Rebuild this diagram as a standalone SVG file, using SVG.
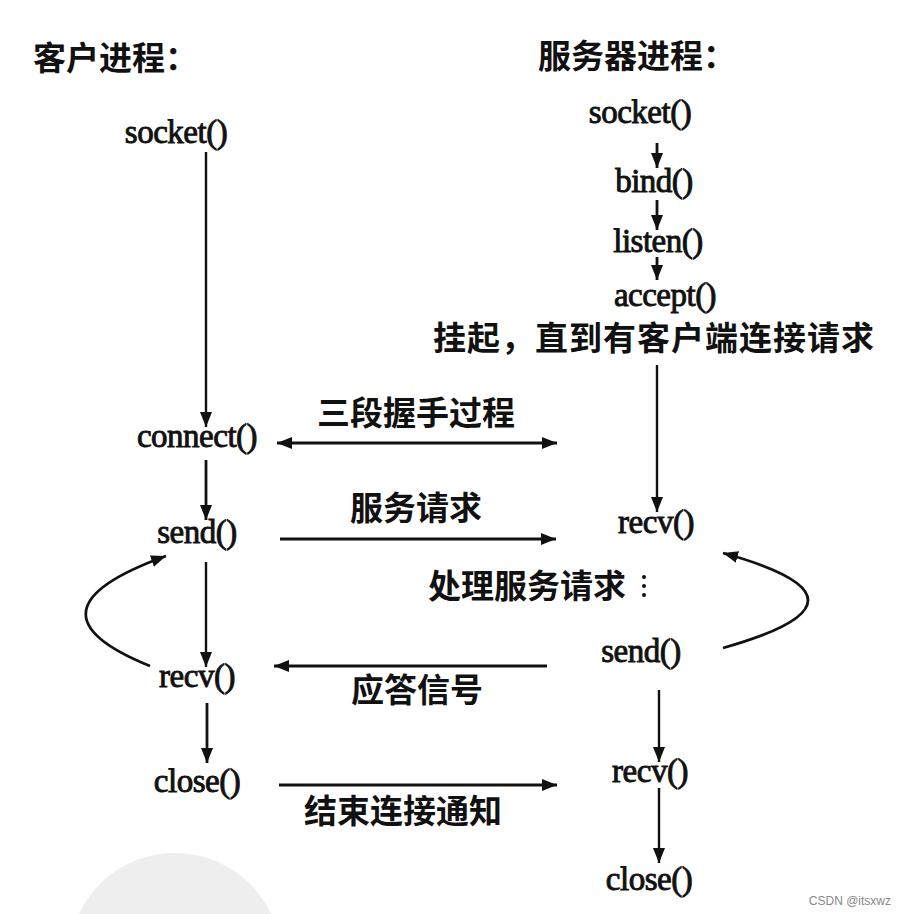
<svg xmlns="http://www.w3.org/2000/svg" width="906" height="914" viewBox="0 0 906 914">
<style>
.fn{font-family:"Liberation Serif","Times New Roman",serif;font-size:33px;fill:#111;stroke:#111;stroke-width:0.9;text-anchor:middle;letter-spacing:-0.5px}
.zh{font-family:"Noto Sans CJK SC","Noto Sans",sans-serif;font-size:33px;font-weight:700;fill:#111}
.ln{stroke:#111;stroke-width:2.8;fill:none}
.thin{stroke:#111;stroke-width:2.4;fill:none}
</style>
<defs>
<marker id="ah" markerUnits="userSpaceOnUse" markerWidth="16" markerHeight="12" refX="15" refY="6" orient="auto-start-reverse">
<path d="M0,0 L15,6 L0,12 Z" fill="#111"/>
</marker>
</defs>
<rect width="906" height="914" fill="#fff"/>
<circle cx="175" cy="959" r="106" fill="#eeeeee"/>

<g id="titles">
<text class="zh" x="33" y="70">客户进程：</text>
<text class="zh" x="538" y="68">服务器进程：</text>
</g>

<g id="client-socket"><text class="fn" x="176" y="143">socket()</text></g>
<g id="client-connect"><text class="fn" x="197" y="447">connect()</text></g>
<g id="client-send"><text class="fn" x="197" y="543">send()</text></g>
<g id="client-recv"><text class="fn" x="197" y="687">recv()</text></g>
<g id="client-close"><text class="fn" x="197" y="792">close()</text></g>

<g id="server-socket"><text class="fn" x="640" y="123">socket()</text></g>
<g id="server-bind"><text class="fn" x="654" y="192">bind()</text></g>
<g id="server-listen"><text class="fn" x="658" y="252">listen()</text></g>
<g id="server-accept"><text class="fn" x="665" y="306">accept()</text></g>
<g id="server-wait"><text class="zh" x="433" y="350" letter-spacing="1">挂起，直到有客户端连接请求</text></g>
<g id="server-recv1"><text class="fn" x="656" y="533">recv()</text></g>
<g id="server-process"><text class="zh" x="428" y="598">处理服务请求</text>
<circle cx="644" cy="577" r="2" fill="#111"/><circle cx="644" cy="586" r="2" fill="#111"/><circle cx="644" cy="595" r="2" fill="#111"/></g>
<g id="server-send"><text class="fn" x="641" y="662">send()</text></g>
<g id="server-recv2"><text class="fn" x="650" y="782">recv()</text></g>
<g id="server-close"><text class="fn" x="649" y="890">close()</text></g>

<g id="connectors">
<line class="thin" x1="206" y1="152" x2="206" y2="427" marker-end="url(#ah)"/>
<line class="ln" x1="206" y1="460" x2="206" y2="520" marker-end="url(#ah)"/>
<line class="thin" x1="206" y1="562" x2="206" y2="667" marker-end="url(#ah)"/>
<line class="ln" x1="207" y1="703" x2="207" y2="763" marker-end="url(#ah)"/>
<path class="ln" d="M150,666 Q14,611 166,556" marker-end="url(#ah)"/>

<line class="ln" x1="657" y1="143" x2="657" y2="168" marker-end="url(#ah)"/>
<line class="ln" x1="657" y1="200" x2="657" y2="230" marker-end="url(#ah)"/>
<line class="ln" x1="657" y1="257" x2="657" y2="280" marker-end="url(#ah)"/>
<line class="thin" x1="657" y1="365" x2="657" y2="512" marker-end="url(#ah)"/>
<path class="ln" d="M723,648 Q893,600 723,553" marker-end="url(#ah)"/>
<line class="thin" x1="659" y1="690" x2="659" y2="762" marker-end="url(#ah)"/>
<line class="thin" x1="659" y1="788" x2="659" y2="863" marker-end="url(#ah)"/>

<line class="ln" x1="277" y1="443" x2="557" y2="443" marker-start="url(#ah)" marker-end="url(#ah)"/>
<line class="ln" x1="280" y1="539" x2="556" y2="539" marker-end="url(#ah)"/>
<line class="ln" x1="547" y1="666" x2="274" y2="666" marker-end="url(#ah)"/>
<line class="ln" x1="279" y1="785" x2="557" y2="785" marker-end="url(#ah)"/>
</g>

<g id="labels">
<text class="zh" x="317" y="425">三段握手过程</text>
<text class="zh" x="350" y="520">服务请求</text>
<text class="zh" x="351" y="702">应答信号</text>
<text class="zh" x="304" y="823">结束连接通知</text>
</g>

<text x="891" y="905" text-anchor="end" font-family="Liberation Sans, Arial, sans-serif" font-size="12" fill="#888">CSDN @itsxwz</text>
</svg>
